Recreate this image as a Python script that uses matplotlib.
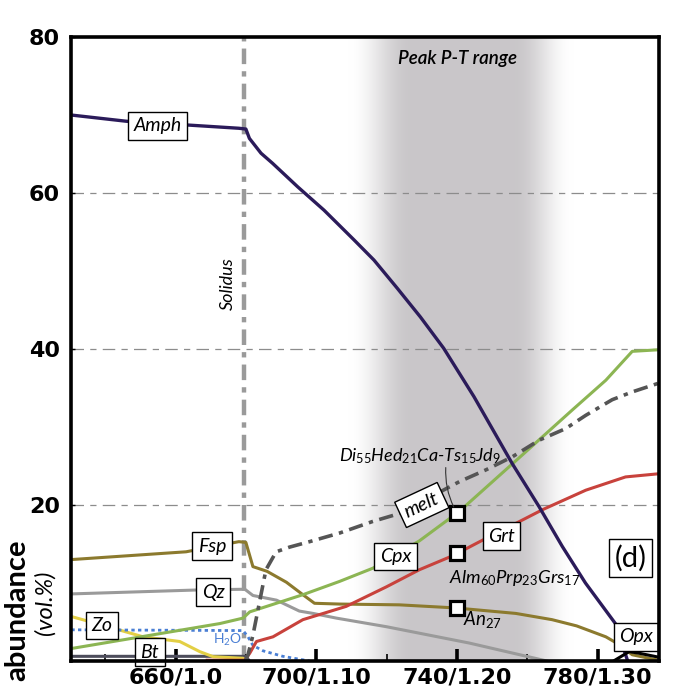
import numpy as np
import matplotlib
matplotlib.use('Agg')
import matplotlib.pyplot as plt

plt.rcParams['font.family'] = ['Lato', 'DejaVu Sans']
plt.rcParams['mathtext.fontset'] = 'custom'
plt.rcParams['mathtext.it'] = 'Lato:italic'
plt.rcParams['mathtext.rm'] = 'Lato'

# ---------------- data ----------------
xtick_vals = [660, 700, 740, 780]
xtick_labels = ['660/1.0', '700/1.10', '740/1.20', '780/1.30']
xminor_vals = [640, 680, 720, 760]
ytick_vals = [20, 40, 60, 80]
solidus_T = 679.5
peak_range = [709.0, 727.0, 756.0, 773.0]   # fade-in start, full, full end, fade-out end

amph_T = [630.3, 646, 664, 678, 680, 681, 684.3, 687.6, 694.7, 702.2, 710.7, 716.4, 723, 729.6, 736.2, 744.8, 755.7, 763.3, 769.9, 776.5, 785, 788.5]
amph = [70.0, 69.2, 68.7, 68.3, 68.2, 67.0, 65.1, 63.8, 60.8, 57.8, 54.0, 51.4, 47.8, 44.1, 40.1, 33.9, 25.3, 19.8, 14.7, 10.0, 4.8, 0.0]

fsp_T = [630.3, 663, 678, 680, 682, 686, 691.5, 696.2, 699.5, 706.6, 723.6, 739.7, 756.7, 767, 774, 782.3, 786.1, 789.8, 797.2]
fsp = [13.0, 14.0, 15.3, 15.2, 12.1, 11.5, 10.1, 8.5, 7.4, 7.3, 7.2, 6.8, 6.1, 5.3, 4.5, 3.1, 2.1, 0.8, 0.1]

qz_T = [630.3, 665.8, 679.7, 682.0, 688.7, 695.2, 699.1, 705.7, 719.9, 743.5, 765.5]
qz = [8.6, 9.1, 9.2, 8.4, 7.8, 6.4, 6.1, 5.5, 4.4, 2.3, 0.0]

cpx_T = [630.4, 672.6, 679.2, 681.1, 696.2, 706.6, 716.1, 729.3, 740.7, 755.8, 772.8, 782.3, 789.8, 797.2]
cpx = [1.6, 4.8, 5.5, 6.3, 8.5, 10.2, 11.9, 15.4, 19.2, 25.3, 32.2, 36.0, 39.7, 39.9]

grt_T = [669, 679.7, 681.1, 683.0, 687.7, 696.2, 708.5, 719.9, 729.3, 738.8, 747.3, 754.8, 764.3, 776.6, 787.9, 797.2]
grt = [0.1, 0.1, 1.0, 2.5, 3.1, 5.3, 7.0, 9.5, 11.7, 13.5, 15.5, 17.2, 19.4, 21.9, 23.6, 24.0]

melt_T = [679.8, 680.6, 682.0, 685.7, 688.6, 692.4, 698.1, 706.6, 716.1, 723.6, 740.7, 748.2, 755.8, 763.3, 770.9, 776.6, 784.1, 789.8, 797.2]
melt = [0.0, 0.8, 3.3, 11.7, 14.0, 14.6, 15.3, 16.4, 17.9, 18.9, 23.0, 24.5, 26.2, 28.3, 29.8, 31.5, 33.5, 34.5, 35.6]

zo_T = [630.4, 640, 650.8, 661.2, 666.9, 670.7, 679.2, 680]
zo = [5.7, 4.5, 3.1, 2.5, 1.2, 0.55, 0.35, 0.0]

h2o_T = [630.4, 679.2, 680.6, 682.0, 684.9, 690.5, 698.1]
h2o = [4.0, 3.9, 3.1, 2.0, 1.3, 0.6, 0.0]

bt_T = [630.4, 680, 681]
bt = [0.6, 0.6, 0.0]

opx_T = [784.5, 788.9, 791.7, 797.2]
opx = [0.0, 1.2, 1.0, 0.5]

analysis_T = 740

# ---------------- figure ----------------
fig = plt.figure(figsize=(6.75, 6.97), dpi=100)
ax = fig.add_axes([71 / 675, 1 - 661 / 697, (659 - 71) / 675, (661 - 37) / 697])

# peak P-T shading (gradient)
ts = np.linspace(peak_range[0], peak_range[3], 500)
a = np.interp(ts, peak_range, [0, 1, 1, 0])
a = 0.5 - 0.5 * np.cos(np.pi * a)
gray = np.array([0.79, 0.78, 0.79])
img = (1 - a[None, :, None]) * np.ones(3) + a[None, :, None] * gray
ax.imshow(img, extent=[peak_range[0], peak_range[3], 0, 80], aspect='auto',
          zorder=0, interpolation='bilinear')

# grid lines
for yv in [20, 40, 60]:
    ax.axhline(yv, color='#8c8c8c', lw=0.9, ls=(0, (10, 5, 5, 5)), zorder=1)

# solidus
ax.axvline(solidus_T, color='#9a9a9a', lw=3.2, ls=(0, (3.5, 1.6, 1.2, 1.6)), zorder=1)

lw = 2.2
ax.plot(bt_T, bt, color='#4d4d5c', lw=lw, zorder=3)
ax.plot(zo_T, zo, color='#e3cf45', lw=lw, zorder=3)
ax.plot(h2o_T, h2o, color='#4a7fd4', lw=2.0, ls=(0, (1.2, 1.2)), zorder=3)
ax.plot(qz_T, qz, color='#9a9a9a', lw=lw, zorder=3)
ax.plot(fsp_T, fsp, color='#8c7a2e', lw=lw, zorder=3)
ax.plot(grt_T, grt, color='#c8423c', lw=lw, zorder=3)
ax.plot(cpx_T, cpx, color='#8cb553', lw=lw, zorder=3)
ax.plot(melt_T, melt, color='#555555', lw=2.6, ls=(0, (4, 1.8, 1.2, 1.8)), zorder=3)
ax.plot(amph_T, amph, color='#2b1b5a', lw=2.4, zorder=4)
ax.plot(opx_T, opx, color='black', lw=lw, zorder=4)

# analysis markers
ycpx = np.interp(analysis_T, cpx_T, cpx)
ygrt = np.interp(analysis_T, grt_T, grt)
yfsp = np.interp(analysis_T, fsp_T, fsp)
ax.plot([analysis_T] * 3, [ycpx, ygrt, yfsp], ls='none', marker='s', ms=9.5,
        mfc='white', mec='black', mew=2.3, zorder=6)

box = dict(boxstyle='square,pad=0.28', fc='white', ec='black', lw=1)
def lab(x, y, s, rot=0, fs=14):
    ax.text(x, y, s, ha='center', va='center', fontsize=fs, fontstyle='italic',
            rotation=rot, bbox=box, zorder=7)

lab(655.0, 68.6, 'Amph')
lab(670.4, 14.7, 'Fsp')
lab(670.7, 8.8, 'Qz')
lab(639.1, 4.55, 'Zo')
lab(652.7, 1.15, 'Bt')
lab(722.5, 13.4, 'Cpx')
lab(730.0, 20.0, 'melt', rot=25)
lab(752.6, 16.0, 'Grt')
lab(790.9, 3.1, 'Opx')
ax.text(789.3, 13.2, '(d)', ha='center', va='center', fontsize=21,
        bbox=dict(boxstyle='square,pad=0.2', fc='white', ec='black', lw=1), zorder=7)

ax.text(674.8, 2.7, r'H$_2$O', color='#4a7fd4', fontsize=10, ha='center', va='center', zorder=7)
ax.text(740.0, 77.2, 'Peak P-T range', fontsize=13.5, fontstyle='italic',
        fontweight='semibold', ha='center', va='center', zorder=7)
ax.text(674.8, 48.4, 'Solidus', fontsize=13, fontstyle='italic', rotation=90,
        ha='center', va='center', zorder=7)

ax.text(729.4, 26.2, r'$Di_{55}Hed_{21}$Ca-$Ts_{15}Jd_{9}$', fontsize=13,
        fontstyle='italic', ha='center', va='center', zorder=7)
ax.annotate('', xy=(analysis_T, ycpx), xytext=(736.8, 24.8),
            arrowprops=dict(arrowstyle='-', lw=0.8, color='#333333',
                            shrinkA=0, shrinkB=5,
                            connectionstyle='arc3,rad=0.15'), zorder=6)
ax.text(756.5, 10.6, r'$Alm_{60}Prp_{23}Grs_{17}$', fontsize=13.3,
        ha='center', va='center', zorder=7)
ax.text(747.2, 5.3, r'$An_{27}$', fontsize=13.5, ha='center', va='center', zorder=7)

# axes
ax.set_xlim(630.3, 797.4)
ax.set_ylim(0, 80)
ax.set_xticks(xtick_vals)
ax.set_xticklabels(xtick_labels)
ax.set_xticks(xminor_vals, minor=True)
ax.set_yticks(ytick_vals)
ax.set_yticklabels([str(v) for v in ytick_vals])
ax.tick_params(axis='x', which='major', direction='in', length=9, width=2.6,
               labelsize=16, pad=5)
ax.tick_params(axis='x', which='minor', direction='in', length=5, width=1.2)
ax.tick_params(axis='y', which='major', direction='in', length=3, width=1,
               labelsize=16, pad=8)
for t in ax.get_xticklabels() + ax.get_yticklabels():
    t.set_fontfamily('DejaVu Sans')
    t.set_fontweight('bold')
for sp in ax.spines.values():
    sp.set_linewidth(2.6)
    sp.set_zorder(8)

fig.text(17 / 675, 1 - 610 / 697, 'abundance', rotation=90, fontsize=21,
         fontweight='bold', ha='center', va='center')
fig.text(45 / 675, 1 - 603 / 697, '(vol.%)', rotation=90, fontsize=17,
         fontstyle='italic', ha='center', va='center')

fig.savefig('out.png', dpi=100)
